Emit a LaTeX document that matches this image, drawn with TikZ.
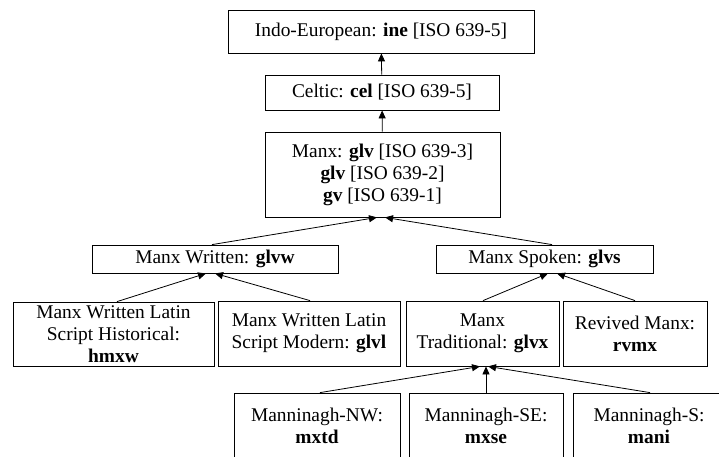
\documentclass[tikz,border=0pt]{standalone}
\usepackage{fontspec}
\setmainfont{Liberation Serif}
\usepackage{tikz}
\usetikzlibrary{arrows.meta, calc}

\begin{document}
\begin{tikzpicture}[x=1pt, y=-1pt,
    box/.style={draw, line width=0.8pt, inner sep=0pt, align=center,
      font=\fontsize{19.4}{22}\selectfont},
    link/.style={line width=0.8pt, -{Triangle[length=8pt, width=7pt]}}]
  \clip (0,0) rectangle (719,456);
  % top of the tree
  \node[box, minimum width=306, minimum height=43] (ine) at (381,31.5)
    {Indo-European: \textbf{ine} [ISO 639-5]};
  \node[box, minimum width=234, minimum height=35] (cel) at (382,92.5)
    {Celtic: \textbf{cel} [ISO 639-5]};
  \node[box, minimum width=235, minimum height=85] (glv) at (382.5,174.5)
    {Manx: \textbf{glv} [ISO 639-3]\\ \textbf{glv} [ISO 639-2]\\ \textbf{gv} [ISO 639-1]};
  % written and spoken
  \node[box, minimum width=246, minimum height=28] (glvw) at (215,259)
    {Manx Written: \textbf{glvw}};
  \node[box, minimum width=217, minimum height=28] (glvs) at (544.5,259)
    {Manx Spoken: \textbf{glvs}};
  % third row
  \node[box, minimum width=201, minimum height=64] (hmxw) at (113.5,334)
    {Manx Written Latin\\ Script Historical:\\ \textbf{hmxw}};
  \node[box, minimum width=182, minimum height=65] (glvl) at (309,333.5)
    {Manx Written Latin\\ Script Modern: \textbf{glvl}};
  \node[box, minimum width=153, minimum height=65] (glvx) at (482.5,333.5)
    {Manx\\ Traditional: \textbf{glvx}};
  \node[box, minimum width=144, minimum height=65] (rvmx) at (635,333.5)
    {Revived Manx:\\ \textbf{rvmx}};
  % dialects
  \node[box, minimum width=166, minimum height=65] (mxtd) at (317,425.5)
    {Manninagh-NW:\\ \textbf{mxtd}};
  \node[box, minimum width=154, minimum height=65] (mxse) at (486,425.5)
    {Manninagh-SE:\\ \textbf{mxse}};
  \node[box, minimum width=152, minimum height=65] (mani) at (649,425.5)
    {Manninagh-S:\\ \textbf{mani}};
  % links
  \draw[link] (cel) -- (ine);
  \draw[link] (glv) -- (cel);
  \draw[link] ($(glvw.north)+(-3,0)$) -- ($(glv.south)+(-5.5,0)$);
  \draw[link] ($(glvs.north)+(7.5,0)$) -- ($(glv.south)+(2.5,0)$);
  \draw[link] ($(hmxw.north)+(3.5,0)$) -- ($(glvw.south)+(-9,0)$);
  \draw[link] ($(glvl.north)+(1,0)$) -- (glvw.south);
  \draw[link] ($(glvx.north)+(0.5,0)$) -- ($(glvs.south)+(3.5,0)$);
  \draw[link] (rvmx.north) -- ($(glvs.south)+(12.5,0)$);
  \draw[link] ($(mxtd.north)+(3,0)$) -- ($(glvx.south)+(-2.5,0)$);
  \draw[link] (mxse.north) -- ($(glvx.south)+(3.5,0)$);
  \draw[link] ($(mani.north)+(1,0)$) -- ($(glvx.south)+(5.5,0)$);
\end{tikzpicture}
\end{document}
